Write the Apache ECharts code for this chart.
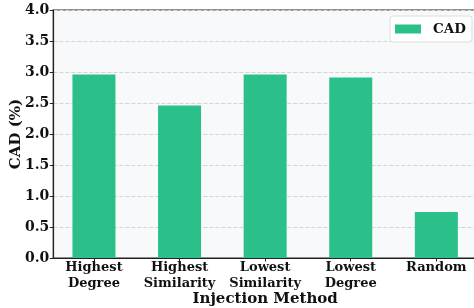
<!DOCTYPE html>
<html><head><meta charset="utf-8">
<script src="https://cdn.jsdelivr.net/npm/echarts@6/dist/echarts.min.js"></script>
<style>html,body{margin:0;padding:0;background:#fff}#c{width:474px;height:308px}</style>
</head><body><div id="c"></div>
<script>
var categories = ["Highest\nDegree", "Highest\nSimilarity", "Lowest\nSimilarity", "Lowest\nDegree", "Random"];
var cadValues = [2.96, 2.46, 2.96, 2.91, 0.74];
var yTicks = [0, 0.5, 1, 1.5, 2, 2.5, 3, 3.5, 4];

var F = "DejaVu Serif";
var chart = echarts.init(document.getElementById('c'), null, {renderer: 'canvas'});
chart.setOption({
  animation: false,
  backgroundColor: '#ffffff',
  grid: {left: 53.3, top: 10, width: 423.7, height: 248, show: true, containLabel: false,
         outerBoundsMode: 'none',
         backgroundColor: '#f8f9fb', borderColor: '#222', borderWidth: 1.2},
  legend: {
    data: ['CAD'], left: 390, top: 16, icon: 'rect', itemWidth: 26, itemHeight: 9,
    backgroundColor: '#ffffff', borderColor: '#dcdcdc', borderWidth: 1, borderRadius: 3,
    padding: [6, 6, 6, 5],
    textStyle: {fontFamily: F, fontWeight: 'bold', fontSize: 13.5, color: '#111', padding: [0, 0, 0, 7]}
  },
  xAxis: {
    type: 'value', min: -0.475, max: 4.475,
    name: 'Injection Method', nameLocation: 'middle', nameGap: 34, nameMoveOverlap: false,
    nameTextStyle: {fontFamily: F, fontWeight: 'bold', fontSize: 15, color: '#111'},
    axisLine: {show: true, onZero: false, lineStyle: {color: '#222', width: 1.2}},
    axisTick: {show: true, length: 3.5, customValues: [0,1,2,3,4], lineStyle: {color: '#222'}},
    axisLabel: {customValues: [0,1,2,3,4], margin: 2, lineHeight: 16,
      fontFamily: F, fontWeight: 'bold', fontSize: 13, color: '#111',
      formatter: function (v) { return categories[Math.round(v)]; }},
    splitLine: {show: false}
  },
  yAxis: {
    type: 'value', min: 0, max: 4, interval: 0.5,
    name: 'CAD (%)', nameLocation: 'middle', nameGap: 30, nameMoveOverlap: false,
    nameTextStyle: {fontFamily: F, fontWeight: 'bold', fontSize: 15, color: '#111'},
    axisLine: {show: true, onZero: false, lineStyle: {color: '#222', width: 1.2}},
    axisTick: {show: true, length: 3.5, lineStyle: {color: '#222'}},
    axisLabel: {margin: 4, fontFamily: F, fontWeight: 'bold', fontSize: 14, color: '#111',
      formatter: function (v) { return v.toFixed(1); }},
    splitLine: {show: true, lineStyle: {color: '#d4d4d4', type: [4, 2], width: 1}}
  },
  series: [{
    name: 'CAD', type: 'bar', barWidth: 43,
    itemStyle: {color: '#2bbf8a'},
    data: cadValues.map(function (v, i) { return [i, v]; })
  }]
});
</script></body></html>
